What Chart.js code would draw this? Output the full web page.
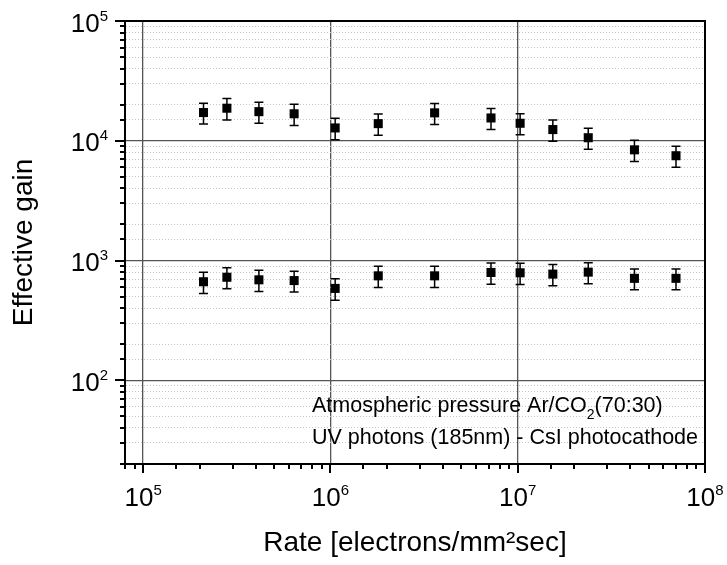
<!DOCTYPE html>
<html lang="en">
<head>
    <meta charset="UTF-8">
    <title>Effective gain vs rate</title>
    <script src="https://cdn.jsdelivr.net/npm/chart.js"></script>
    <style>
        body { margin: 0; background: #fff; }
        canvas { display: block; }
    </style>
</head>
<body>
    <canvas id="gainChart" width="727" height="565"></canvas>

    <script>
        // Rate in electrons/mm^2/sec (same rates for both gain settings)
        const rates = [2.1e5, 2.8e5, 4.15e5, 6.4e5, 1.06e6, 1.8e6, 3.6e6, 7.2e6, 1.03e7, 1.54e7, 2.38e7, 4.2e7, 7.0e7];
        const highGain = [17200, 18700, 17500, 16800, 12800, 13900, 17100, 15500, 14000, 12400, 10600, 8400, 7500];
        const highGainErr = [3400, 3800, 3500, 3400, 2600, 2800, 3400, 3100, 2800, 2500, 2100, 1700, 1500];
        const lowGain = [665, 725, 690, 680, 585, 745, 745, 795, 790, 770, 800, 710, 710];
        const lowGainErr = [135, 145, 140, 135, 120, 150, 150, 160, 160, 155, 160, 140, 140];
        const xLimits = [8e4, 1e8];
        const yLimits = [20, 1e5];
        // second text line; first one is split to place the CO2 subscript
        const noteLine1 = ['Atmospheric pressure Ar/CO', '2', '(70:30)'];
        const noteLine2 = 'UV photons (185nm) - CsI photocathode';

        const FONT = '"Liberation Sans", Arial, sans-serif';

        function isDecade(v) {
            const e = Math.log10(v);
            return Math.abs(e - Math.round(e)) < 1e-9;
        }

        function toPoints(xs, ys) {
            return xs.map((x, i) => ({x: x, y: ys[i]}));
        }

        // Draws "10" with a raised exponent, starting at x
        function drawPower(ctx, x, y, exp) {
            ctx.font = '26px ' + FONT;
            const wBase = ctx.measureText('10').width;
            ctx.fillText('10', x, y);
            ctx.font = '15px ' + FONT;
            ctx.fillText(String(exp), x + wBase, y - 11);
        }

        function powerWidth(ctx, exp) {
            ctx.font = '26px ' + FONT;
            const w = ctx.measureText('10').width;
            ctx.font = '15px ' + FONT;
            return w + ctx.measureText(String(exp)).width;
        }

        const decorPlugin = {
            id: 'decor',
            // error bars go under the markers
            beforeDatasetsDraw(chart) {
                const ctx = chart.ctx;
                const yScale = chart.scales.y;
                ctx.save();
                ctx.strokeStyle = '#000';
                ctx.lineWidth = 1.5;
                chart.data.datasets.forEach((ds, di) => {
                    const meta = chart.getDatasetMeta(di);
                    meta.data.forEach((pt, i) => {
                        const v = ds.data[i].y;
                        const err = ds.errors[i];
                        const yTop = yScale.getPixelForValue(v + err);
                        const yBot = yScale.getPixelForValue(v - err);
                        ctx.beginPath();
                        ctx.moveTo(pt.x, yTop);
                        ctx.lineTo(pt.x, yBot);
                        ctx.moveTo(pt.x - 4.5, yTop);
                        ctx.lineTo(pt.x + 4.5, yTop);
                        ctx.moveTo(pt.x - 4.5, yBot);
                        ctx.lineTo(pt.x + 4.5, yBot);
                        ctx.stroke();
                    });
                });
                ctx.restore();
            },
            afterDraw(chart) {
                const ctx = chart.ctx;
                const area = chart.chartArea;
                const xScale = chart.scales.x;
                const yScale = chart.scales.y;
                ctx.save();

                // top and right frame lines
                ctx.strokeStyle = '#000';
                ctx.lineWidth = 2;
                ctx.beginPath();
                ctx.moveTo(area.left, area.top);
                ctx.lineTo(area.right, area.top);
                ctx.lineTo(area.right, area.bottom);
                ctx.stroke();

                // tick marks, longer at each decade
                ctx.beginPath();
                xScale.ticks.forEach(t => {
                    const px = Math.round(xScale.getPixelForValue(t.value));
                    const len = isDecade(t.value) ? 9 : 5;
                    ctx.moveTo(px, area.bottom);
                    ctx.lineTo(px, area.bottom + len);
                });
                yScale.ticks.forEach(t => {
                    const py = Math.round(yScale.getPixelForValue(t.value));
                    const len = isDecade(t.value) ? 10 : 5;
                    ctx.moveTo(area.left, py);
                    ctx.lineTo(area.left - len, py);
                });
                ctx.stroke();

                // decade labels
                ctx.fillStyle = '#000';
                ctx.textAlign = 'left';
                ctx.textBaseline = 'alphabetic';
                xScale.ticks.filter(t => isDecade(t.value)).forEach(t => {
                    const exp = Math.round(Math.log10(t.value));
                    const px = xScale.getPixelForValue(t.value);
                    drawPower(ctx, px - powerWidth(ctx, exp) / 2, area.bottom + 42, exp);
                });
                yScale.ticks.filter(t => isDecade(t.value)).forEach(t => {
                    const exp = Math.round(Math.log10(t.value));
                    const py = yScale.getPixelForValue(t.value);
                    drawPower(ctx, area.left - 17 - powerWidth(ctx, exp), py + 10.5, exp);
                });

                // measurement conditions
                const nx = area.left + 187;
                ctx.font = '21.5px ' + FONT;
                ctx.fillText(noteLine1[0], nx, area.bottom - 52);
                let w = ctx.measureText(noteLine1[0]).width;
                ctx.font = '14px ' + FONT;
                ctx.fillText(noteLine1[1], nx + w, area.bottom - 45);
                w += ctx.measureText(noteLine1[1]).width;
                ctx.font = '21.5px ' + FONT;
                ctx.fillText(noteLine1[2], nx + w, area.bottom - 52);
                ctx.fillText(noteLine2, nx, area.bottom - 20);

                ctx.restore();
            }
        };

        function plotGainChart() {
            const ctx = document.getElementById('gainChart').getContext('2d');
            const markerStyle = {
                showLine: false,
                pointStyle: 'rect',
                pointRadius: 6.4,
                pointHoverRadius: 6.4,
                backgroundColor: '#000',
                borderColor: '#000',
                borderWidth: 0
            };
            new Chart(ctx, {
                type: 'scatter',
                data: {
                    datasets: [
                        Object.assign({label: 'high gain', data: toPoints(rates, highGain), errors: highGainErr}, markerStyle),
                        Object.assign({label: 'low gain', data: toPoints(rates, lowGain), errors: lowGainErr}, markerStyle)
                    ]
                },
                options: {
                    responsive: false,
                    animation: false,
                    devicePixelRatio: 1,
                    layout: {padding: {top: 21, right: 22, left: 0, bottom: 0}},
                    plugins: {
                        legend: {display: false},
                        tooltip: {enabled: false}
                    },
                    scales: {
                        x: {
                            type: 'logarithmic',
                            position: 'bottom',
                            min: xLimits[0],
                            max: xLimits[1],
                            ticks: {display: false},
                            grid: {
                                drawTicks: false,
                                color: c => (c.tick && isDecade(c.tick.value)) ? '#555' : 'rgba(0,0,0,0)',
                                lineWidth: 1.3
                            },
                            border: {color: '#000', width: 2},
                            title: {
                                display: true,
                                text: 'Rate [electrons/mm²sec]',
                                color: '#000',
                                font: {family: FONT, size: 28},
                                padding: {top: 0, bottom: 5}
                            },
                            afterFit: s => { s.height = 101; }
                        },
                        y: {
                            type: 'logarithmic',
                            position: 'left',
                            min: yLimits[0],
                            max: yLimits[1],
                            ticks: {display: false},
                            grid: {
                                drawTicks: false,
                                color: c => (c.tick && isDecade(c.tick.value)) ? '#555' : '#c4c4c4',
                                lineWidth: c => (c.tick && isDecade(c.tick.value)) ? 1.3 : 1
                            },
                            border: {
                                color: '#000',
                                width: 2,
                                dash: c => (c.tick && !isDecade(c.tick.value)) ? [1, 2] : []
                            },
                            title: {
                                display: true,
                                text: 'Effective gain',
                                color: '#000',
                                font: {family: FONT, size: 28},
                                padding: {top: 7, bottom: 0}
                            },
                            afterFit: s => { s.width = 125; }
                        }
                    }
                },
                plugins: [decorPlugin]
            });
        }

        document.addEventListener('DOMContentLoaded', plotGainChart);
    </script>
</body>
</html>
